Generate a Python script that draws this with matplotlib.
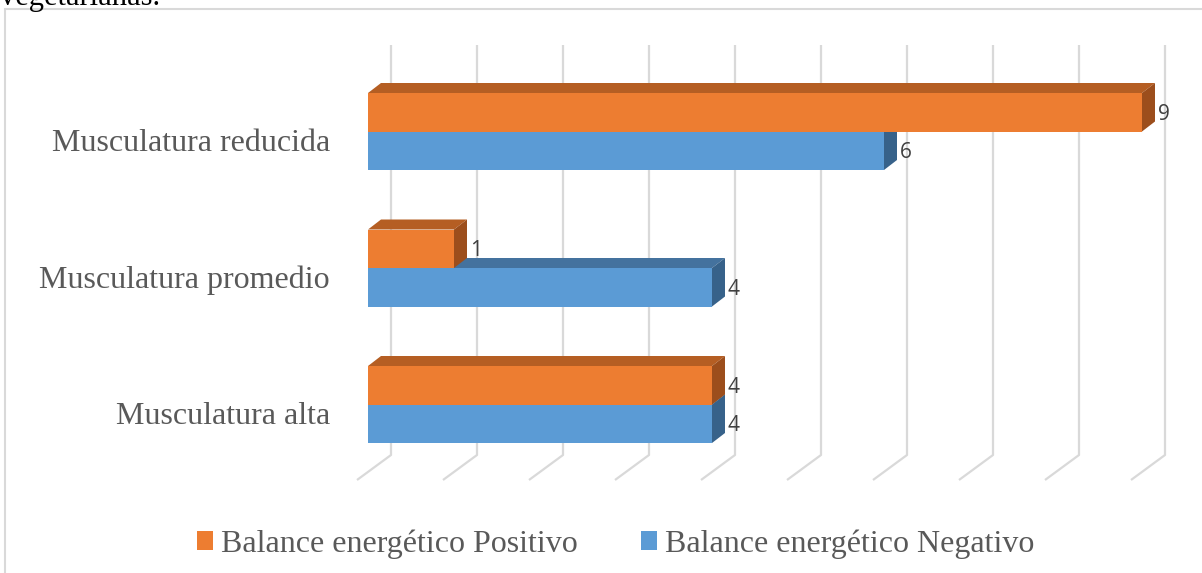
import matplotlib
matplotlib.use("Agg")
import matplotlib.pyplot as plt
from matplotlib.patches import Polygon, Rectangle, Patch

# ---- data ----
categories = ["Musculatura alta", "Musculatura promedio", "Musculatura reducida"]
series_names = ["Balance energético Positivo", "Balance energético Negativo"]
positivo = [4, 1, 9]
negativo = [4, 4, 6]
x_max = 9

# ---- style ----
W, H = 1202, 573
DPI = 100
front_col = {"pos": "#ED7D31", "neg": "#5B9BD5"}
top_col = {"pos": "#B55E23", "neg": "#44729E"}
side_col = {"pos": "#9C4E1C", "neg": "#37628A"}
grid_col = "#D9D9D9"
text_col = "#595959"
label_col = "#404040"

fig = plt.figure(figsize=(W / DPI, H / DPI), dpi=DPI)
ax = fig.add_axes([0, 0, 1, 1])
ax.set_axis_off()

# scale: value 0 at px 368, 86 px per unit; category spacing 136.5 px
X0_PX, UX = 368.0, 86.0
UY = 136.5
CAT0_PX = 404.5  # from top
ax.set_xlim(-X0_PX / UX, (W - X0_PX) / UX)
ax.set_ylim(-(H - CAT0_PX) / UY, CAT0_PX / UY)

def px2x(dpx):
    return dpx / UX

def px2y(dpx):
    return dpx / UY

def ytop(py):  # pixel-from-top -> data y (style geometry only)
    return (CAT0_PX - py) / UY

# ---- gridlines (back wall + floor) ----
back_dx = px2x(23)
y_grid_top = ytop(45)
y_grid_bot = ytop(455)
y_floor = ytop(480)
for k in range(0, x_max + 1):
    xb = k + back_dx
    ax.plot([xb, xb, xb - px2x(34)], [y_grid_top, y_grid_bot, y_floor],
            color=grid_col, lw=1.6, zorder=1, solid_capstyle="butt")

# ---- 3D bars ----
h = px2y(38.5)
ddx, ddy = px2x(13), px2y(10)
pos_idx = list(range(len(categories)))

def bar3d(y0, v, key, z):
    # top face
    ax.add_patch(Polygon([(0, y0 + h), (v, y0 + h), (v + ddx, y0 + h + ddy), (ddx, y0 + h + ddy)],
                         closed=True, facecolor=top_col[key], edgecolor="none", zorder=z))
    # side face
    ax.add_patch(Polygon([(v, y0), (v, y0 + h), (v + ddx, y0 + h + ddy), (v + ddx, y0 + ddy)],
                         closed=True, facecolor=side_col[key], edgecolor="none", zorder=z))

for i, v in zip(pos_idx, negativo):
    bar3d(i - h, v, "neg", 3)
ax.barh([i - h for i in pos_idx], negativo, height=h, align="edge",
        color=front_col["neg"], edgecolor="none", zorder=3.5)
for i, v in zip(pos_idx, positivo):
    bar3d(i, v, "pos", 4)
ax.barh(pos_idx, positivo, height=h, align="edge",
        color=front_col["pos"], edgecolor="none", zorder=4.5)

# value labels
for i, v in zip(pos_idx, positivo):
    ax.text(v + px2x(16), i + h / 2 - px2y(2), str(v), ha="left", va="center",
            fontsize=15, family="Open Sans", color=label_col, zorder=6)
for i, v in zip(pos_idx, negativo):
    ax.text(v + px2x(16), i - h / 2 - px2y(2), str(v), ha="left", va="center",
            fontsize=15, family="Open Sans", color=label_col, zorder=6)

# category labels
for i, c in zip(pos_idx, categories):
    ax.text(px2x(-38), i - px2y(12), c, ha="right", va="center",
            fontsize=23, family="Liberation Serif", color=text_col)

# legend
handles = [Patch(facecolor=front_col["pos"], edgecolor="none"),
           Patch(facecolor=front_col["neg"], edgecolor="none")]
leg = fig.legend(handles, series_names, loc="center", bbox_to_anchor=(615.5 / W, 1 - 544 / H),
                 ncol=2, frameon=False,
                 prop={"family": "Liberation Serif", "size": 23},
                 handlelength=0.5, handleheight=0.5, handletextpad=0.25,
                 columnspacing=1.97)
for t in leg.get_texts():
    t.set_color(text_col)

# chart border (partially cut off) and cut-off text above
fig.add_artist(Rectangle((5 / W, -0.1), 1.2, 1 - 9 / H + 0.1, transform=fig.transFigure,
                         facecolor="none", edgecolor=grid_col, lw=1.5))
fig.text(0 / W, 1 - 5 / H, "vegetarianas.", ha="left", va="baseline",
         fontsize=22, family="Liberation Serif", color="black")

fig.savefig("out.png", dpi=DPI)
